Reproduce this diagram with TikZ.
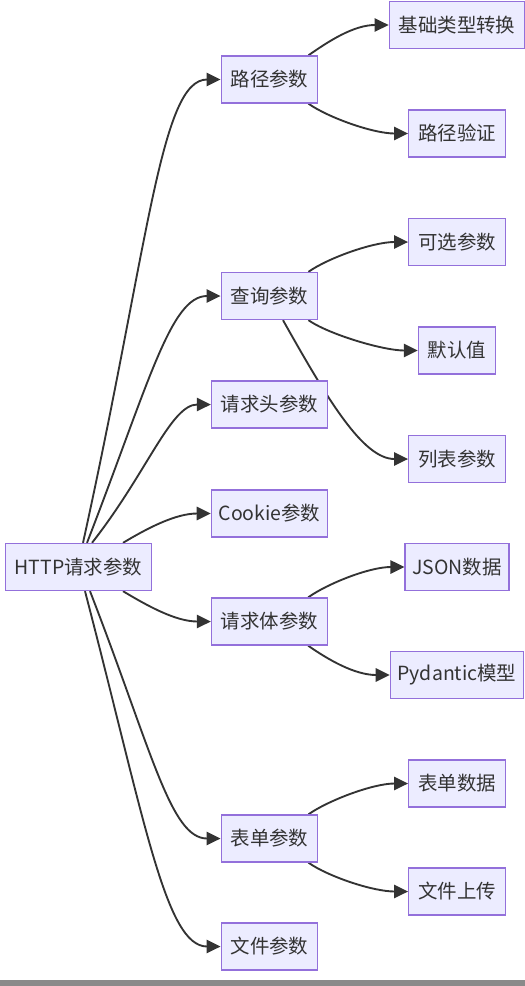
\documentclass[tikz,border=0pt]{standalone}
\usepackage{fontspec}
\setmainfont{Noto Sans CJK SC}
\usetikzlibrary{arrows.meta,calc}
\definecolor{boxfill}{HTML}{ECECFF}
\definecolor{boxline}{HTML}{9370DB}
\definecolor{inkgray}{HTML}{333333}
\definecolor{bargray}{HTML}{8A8A8A}
\pgfdeclarelayer{edges}
\pgfsetlayers{edges,main}
\tikzset{
  box/.style={draw=boxline, line width=1pt, fill=boxfill, text=inkgray,
              minimum height=35.25pt, inner xsep=7pt, inner ysep=0pt,
              font=\fontsize{14.6pt}{17pt}\selectfont},
  latinbox/.style={box, inner xsep=5.4pt},
  link/.style={draw=inkgray, line width=1.4pt,
               -{Triangle[length=10.5pt,width=10pt]}},
}

\begin{document}
\begin{tikzpicture}[x=0.75pt,y=-0.75pt]
  \path[use as bounding box] (0,0) rectangle (525,986);
  \fill[bargray] (0,980) rectangle (525,986);

  % root and first level
  \node[box] (http)   at (78.5,567)   {HTTP请求参数};
  \node[box] (path)   at (269.5,79.5) {路径参数};
  \node[box] (query)  at (269.5,296)  {查询参数};
  \node[box] (header) at (269.5,404.5) {请求头参数};
  \node[latinbox] (cookie) at (269.5,513.5) {Cookie参数};
  \node[box] (body)   at (269.5,621.5) {请求体参数};
  \node[box] (form)   at (269.5,838.5) {表单参数};
  \node[box] (file)   at (269.5,946.5) {文件参数};

  % second level
  \node[box] (pathtype)  at (457,25)    {基础类型转换};
  \node[box] (pathcheck) at (457,133.5) {路径验证};
  \node[box] (optional)  at (457,242)   {可选参数};
  \node[box] (defval)    at (457,350.5) {默认值};
  \node[box] (listp)     at (457,459)   {列表参数};
  \node[latinbox] (json)     at (457,567)   {JSON数据};
  \node[latinbox] (pydantic) at (457,675)   {Pydantic模型};
  \node[box] (formdata)  at (457,783.5) {表单数据};
  \node[box] (upload)    at (457,891.5) {文件上传};

  \begin{pgfonlayer}{edges}
    % root to first level
    \draw[link] ($(http.north)+(4.5,0)$) .. controls +(66,-300) and +(-60,0) .. (path.west);
    \draw[link] ($(http.north)+(8.5,0)$) .. controls +(62,-160) and +(-50,0) .. (query.west);
    \draw[link] ($(http.north)+(13.5,0)$) .. controls +(55,-70) and +(-40,0) .. (header.west);
    \draw[link] ($(http.north)+(44.5,0)$) .. controls +(25,-15) and +(-35,0) .. (cookie.west);
    \draw[link] ($(http.south)+(44.5,0)$) .. controls +(25,15) and +(-35,0) .. (body.west);
    \draw[link] ($(http.south)+(11.5,0)$) .. controls +(62,160) and +(-50,0) .. (form.west);
    \draw[link] ($(http.south)+(6.5,0)$) .. controls +(60,230) and +(-55,0) .. (file.west);

    % first level to second level
    \draw[link] ($(path.north east)+(-10,0)$) .. controls +(20,-14) and +(-35,0) .. (pathtype.west);
    \draw[link] ($(path.south east)+(-10,0)$) .. controls +(20,14) and +(-35,0) .. (pathcheck.west);
    \draw[link] ($(query.north east)+(-10,0)$) .. controls +(20,-14) and +(-35,0) .. (optional.west);
    \draw[link] ($(query.south east)+(-10,0)$) .. controls +(20,14) and +(-35,0) .. (defval.west);
    \draw[link] ($(query.south)+(13.5,0)$) .. controls +(45,80) and +(-45,0) .. (listp.west);
    \draw[link] ($(body.north east)+(-20,0)$) .. controls +(20,-14) and +(-35,0) .. (json.west);
    \draw[link] ($(body.south east)+(-20,0)$) .. controls +(20,14) and +(-35,0) .. (pydantic.west);
    \draw[link] ($(form.north east)+(-10,0)$) .. controls +(20,-14) and +(-35,0) .. (formdata.west);
    \draw[link] ($(form.south east)+(-10,0)$) .. controls +(20,14) and +(-35,0) .. (upload.west);
  \end{pgfonlayer}
\end{tikzpicture}
\end{document}
